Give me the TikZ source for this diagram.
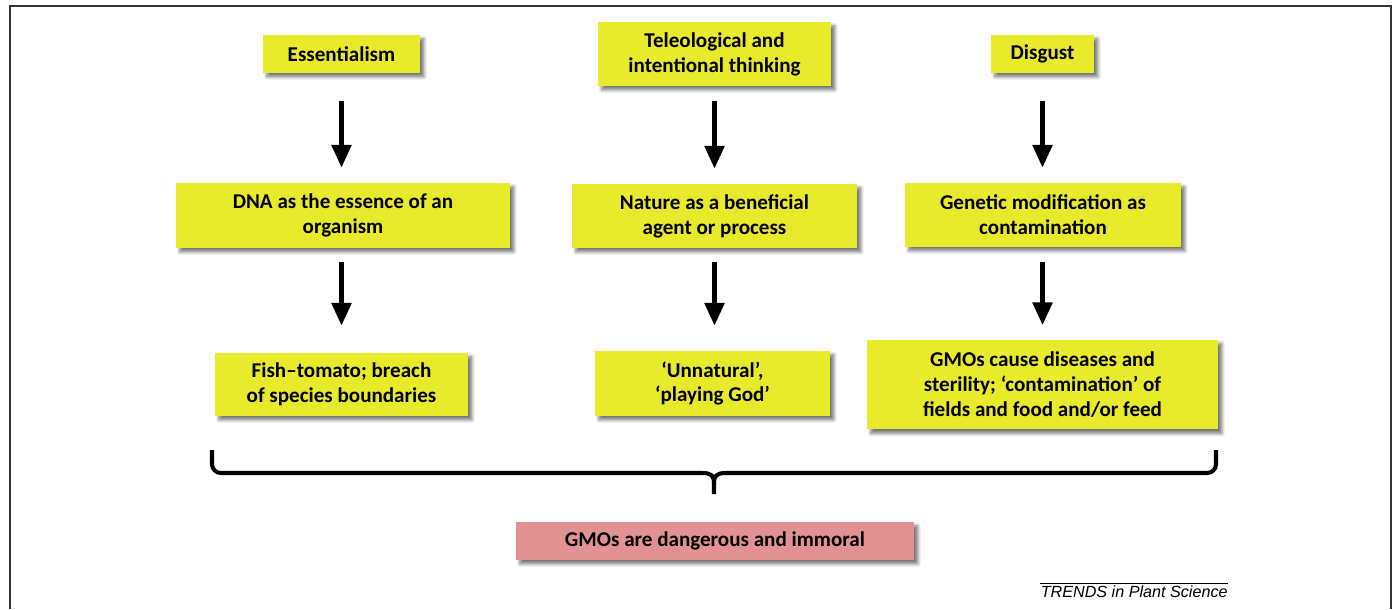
\documentclass[tikz,border=0pt]{standalone}
\usepackage{fontspec}
\setmainfont{Carlito}
\newfontfamily\capfont{Liberation Sans}
\usetikzlibrary{arrows.meta,shadows.blur}
\definecolor{boxyellow}{RGB}{232,234,44}
\definecolor{boxpink}{RGB}{226,146,146}
\tikzset{
  box/.style={fill=boxyellow,align=center,inner sep=0pt,
    font=\fontsize{12}{14.2}\selectfont\bfseries,
    blur shadow={shadow xshift=2.2pt,shadow yshift=-2.2pt,shadow blur steps=6,shadow opacity=55}},
  arr/.style={line width=2.7pt,-{Triangle[width=11pt,length=13pt]}},
}
\begin{document}
\begin{tikzpicture}[x=0.02cm,y=-0.02cm]
  \useasboundingbox (0,0) rectangle (1393,609);
  % frame
  \draw[line width=1pt,black!80] (10,609) -- (10,6) -- (1391,6) -- (1391,609);
  % top row
  \node[box,minimum width=3.14cm,minimum height=0.76cm] (ess) at (341.5,54) {Essentialism};
  \node[box,minimum width=4.66cm,minimum height=1.28cm] (tel) at (714.5,54) {Teleological and\\intentional thinking};
  \node[box,minimum width=2.06cm,minimum height=0.76cm] (dis) at (1042.5,54) {Disgust};
  % middle row
  \node[box,minimum width=6.68cm,minimum height=1.3cm] (dna) at (343,215.5) {DNA as the essence of an\\organism};
  \node[box,minimum width=5.7cm,minimum height=1.28cm] (nat) at (714.5,216) {Nature as a beneficial\\agent or process};
  \node[box,minimum width=5.52cm,minimum height=1.28cm] (gen) at (1043,215) {Genetic modification as\\contamination};
  % bottom row
  \node[box,minimum width=5.06cm,minimum height=1.26cm] (fish) at (341.5,384.5) {Fish--tomato; breach\\of species boundaries};
  \node[box,minimum width=4.7cm,minimum height=1.3cm] (unn) at (712.5,383.5) {`Unnatural',\\`playing God'};
  \node[box,minimum width=7.02cm,minimum height=1.8cm] (gmo) at (1042.5,384.5) {GMOs cause diseases and\\sterility; `contamination' of\\fields and food and/or feed};
  % conclusion
  \node[box,fill=boxpink,minimum width=7.96cm,minimum height=0.76cm] (res) at (715,541) {GMOs are dangerous and immoral};
  % arrows
  \draw[arr,shorten <=0.56cm,shorten >=0.3cm] (ess.south) -- (ess.south |- dna.north);
  \draw[arr,shorten <=0.3cm,shorten >=0.3cm] (tel.south) -- (tel.south |- nat.north);
  \draw[arr,shorten <=0.56cm,shorten >=0.3cm] (dis.south) -- (dis.south |- gen.north);
  \draw[arr,shorten <=0.28cm,shorten >=0.54cm] (fish.north |- dna.south) -- (fish.north);
  \draw[arr,shorten <=0.28cm,shorten >=0.5cm] (nat.south) -- (nat.south |- unn.north);
  \draw[arr,shorten <=0.3cm,shorten >=0.28cm] (gmo.north |- gen.south) -- (gmo.north);
  % brace
  \draw[line width=2.3pt,rounded corners=5] (212,450) -- (212,473) -- (702,473);
  \draw[line width=2.3pt,rounded corners=5] (1216,450) -- (1216,473) -- (726,473);
  \draw[line width=2.3pt] (702,473) .. controls (712,473) and (714,476) .. (714,484) -- (714,494);
  \draw[line width=2.3pt] (726,473) .. controls (716,473) and (714,476) .. (714,484);
  % caption
  \node[font=\capfont\itshape\fontsize{9.2}{11}\selectfont,inner sep=0pt,anchor=base east] (cap) at (1228,597) {TRENDS in Plant Science};
  \draw[line width=0.5pt] (cap.north west |- 0,583) -- (cap.north east |- 0,583);
\end{tikzpicture}
\end{document}
